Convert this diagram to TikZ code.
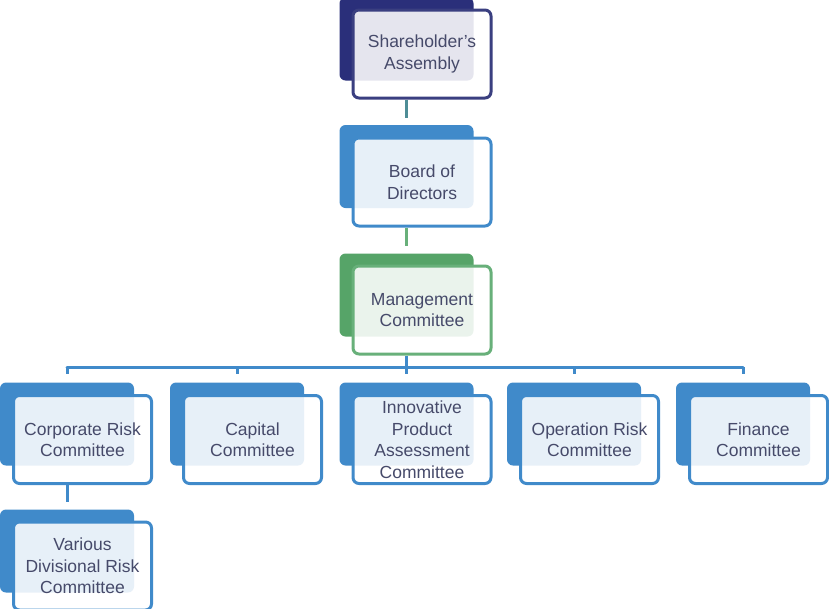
\documentclass[tikz,border=0pt]{standalone}
\usepackage{fontspec}
\setmainfont{Liberation Sans}
\definecolor{navy}{RGB}{42,47,122}
\definecolor{navyline}{RGB}{58,63,128}
\definecolor{boxblue}{RGB}{64,138,202}
\definecolor{boxgreen}{RGB}{86,164,104}
\definecolor{greenline}{RGB}{104,176,122}
\definecolor{tealline}{RGB}{78,141,150}
\definecolor{txt}{RGB}{70,74,106}

\begin{document}
\begin{tikzpicture}[x=1pt,y=-1pt,
  back/.style={rounded corners=6pt, fill=#1, minimum width=134pt, minimum height=83pt, inner sep=0pt},
  front/.style={rounded corners=6pt, draw=#1, line width=3pt, fill=white, fill opacity=0.88, text opacity=1,
    minimum width=138pt, minimum height=88pt, inner sep=0pt},
  boxtext/.style={text=txt, font=\fontsize{17.5}{21.5}\selectfont, align=center},
  link/.style={line width=3pt, draw=#1, shorten >=7pt}]
  \useasboundingbox (0,0) rectangle (829,608);

  % top of the chart
  \node[back=navy] (shb) at (406.5,39) {};
  \node[front=navyline, boxtext] (sh) at (422,54) {Shareholder's\\Assembly};

  \node[back=boxblue] (bdb) at (406.5,166.5) {};
  \node[front=boxblue, boxtext] (bd) at (422,182) {Board of\\Directors};

  \node[back=boxgreen] (mgb) at (406.5,295) {};
  \node[front=greenline, boxtext] (mg) at (422,310) {Management\\Committee};

  \draw[link=tealline] (shb.north |- sh.south) -- (bdb.north);
  \draw[link=greenline] (bdb.north |- bd.south) -- (mgb.north);

  % committees
  \coordinate (bus) at (0,367);
  \foreach\name/\x/\txt in {corp/67/{Corporate Risk\\Committee},
                             cap/237/{Capital\\Committee},
                             inno/406.5/{Innovative\\Product\\Assessment\\Committee},
                             oper/574/{Operation Risk\\Committee},
                             fin/743/{Finance\\Committee}}{
  	\node[back=boxblue] (\name b) at (\x,424) {};
  	\node[front=boxblue, boxtext] (\name) at (\x+15.5,439.5) {\txt};
      \draw[link=boxblue, shorten >=8pt] (\name b.north |- bus) -- (\name b.north);
  }
  \draw[link=boxblue, shorten >=0pt] (mgb.north |- mg.south) -- (mgb.north |- bus);
  \draw[link=boxblue, shorten >=0pt, line cap=round] (corpb.north |- bus) -- (finb.north |- bus);

  \node[back=boxblue] (divb) at (67,551) {};
  \node[front=boxblue, boxtext] (div) at (82.5,566) {Various\\Divisional Risk\\Committee};
  \draw[link=boxblue] (corpb.north |- corp.south) -- (divb.north);
\end{tikzpicture}
\end{document}
